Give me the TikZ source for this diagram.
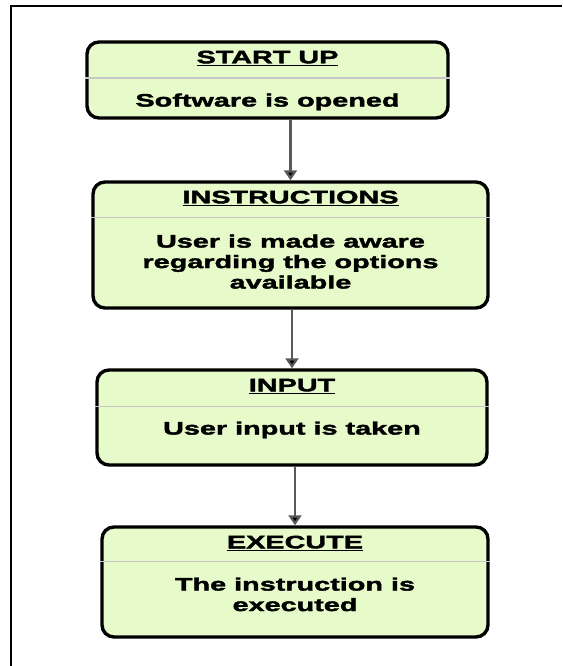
\documentclass[tikz,border=0pt]{standalone}
\usepackage{fontspec}
\setmainfont{Liberation Sans}
\newfontfamily\flowfont[FakeStretch=1.6,FakeBold=2.2]{Liberation Sans}
\usepackage{tikz}
\usetikzlibrary{calc}
\usetikzlibrary{positioning}
\usetikzlibrary{arrows.meta}
\definecolor{stepgreen}{RGB}{230,250,202}

\begin{document}
\begin{tikzpicture}[x=1pt,y=-1pt]
\tikzstyle{box}=[rectangle,rounded corners=12pt,draw,line width=3.4pt,fill=stepgreen]
\tikzstyle{head}=[anchor=base,inner sep=0pt,font=\flowfont\bfseries\fontsize{18}{20}\selectfont]
\tikzstyle{body}=[anchor=north,inner sep=0pt,align=center,font=\flowfont\bfseries\fontsize{18}{20.5}\selectfont]
\tikzstyle{rule}=[line width=1.6pt,black!22]
\tikzstyle{flow}=[line width=2.2pt,black!65,-{Triangle[width=13pt,length=10pt,fill=black]}]
\useasboundingbox (0,0) rectangle (562,666);
\draw[line width=2pt] (11,666) -- (11,6) -- (562,6);
\node[box,minimum width=361pt,minimum height=76pt] at (267.5,80) (start) {};
\node[box,minimum width=395pt,minimum height=126pt] at (290.5,245) (instr) {};
\node[box,minimum width=390pt,minimum height=95pt] at (292,417.5) (input) {};
\node[box,minimum width=386pt,minimum height=110pt] at (295,582) (exec) {};
\draw[rule] ([yshift=-38pt]start.north west) -- ([yshift=-38pt]start.north east);
\draw[rule] ([yshift=-37pt]instr.north west) -- ([yshift=-37pt]instr.north east);
\draw[rule] ([yshift=-38pt]input.north west) -- ([yshift=-38pt]input.north east);
\draw[rule] ([yshift=-36pt]exec.north west) -- ([yshift=-36pt]exec.north east);
\node[head] at ([yshift=-23pt]start.north) (startT) {\underline{START UP}};
\node[head] at ([yshift=-23pt]instr.north) (instrT) {\underline{INSTRUCTIONS}};
\node[head] at ([yshift=-23pt]input.north) (inputT) {\underline{INPUT}};
\node[head] at ([yshift=-23pt]exec.north) (execT) {\underline{EXECUTE}};
\node[body] at ([yshift=-53pt]start.north) (startB) {Software is opened};
\node[body] at ([yshift=-54pt]instr.north) (instrB) {User is made aware\\regarding the options\\available};
\node[body] at ([yshift=-53pt]input.north) (inputB) {User input is taken};
\node[body] at ([yshift=-52pt]exec.north) (execB) {The instruction is\\executed};
\draw[flow] (instr.north |- start.south) -- (instr.north);
\draw[flow] (input.north |- instr.south) -- (input.north);
\draw[flow] (exec.north |- input.south) -- (exec.north);
\end{tikzpicture}
\end{document}
